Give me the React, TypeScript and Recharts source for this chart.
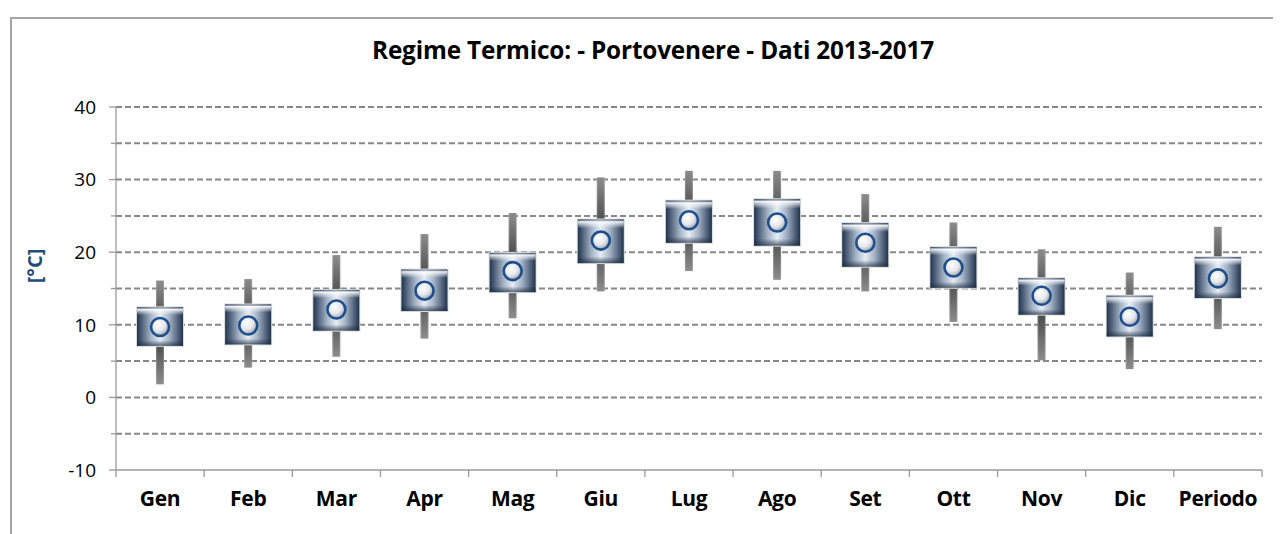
import React from 'react';
import { ComposedChart, Bar, Scatter, XAxis, YAxis, CartesianGrid } from 'recharts';

const categories = ['Gen', 'Feb', 'Mar', 'Apr', 'Mag', 'Giu', 'Lug', 'Ago', 'Set', 'Ott', 'Nov', 'Dic', 'Periodo'];
const minValues = [1.8, 4.1, 5.6, 8.1, 10.9, 14.6, 17.4, 16.2, 14.6, 10.4, 5.1, 3.9, 9.4];
const maxValues = [16.1, 16.3, 19.6, 22.5, 25.4, 30.3, 31.2, 31.2, 28.0, 24.1, 20.4, 17.2, 23.5];
const lowBoxValues = [7.1, 7.3, 9.2, 11.9, 14.5, 18.5, 21.3, 20.9, 18.0, 15.1, 11.4, 8.4, 13.7];
const highBoxValues = [12.4, 12.8, 14.8, 17.6, 19.9, 24.5, 27.1, 27.3, 24.0, 20.7, 16.4, 14.0, 19.3];
const meanValues = [9.7, 9.9, 12.1, 14.7, 17.4, 21.6, 24.4, 24.1, 21.3, 17.9, 14.0, 11.1, 16.4];
const yTicks = [-10, -5, 0, 5, 10, 15, 20, 25, 30, 35, 40];

const title = 'Regime Termico: - Portovenere - Dati 2013-2017';
const yLabel = '[°C]';

const data = categories.map((name, i) => ({
  name,
  range: [minValues[i], maxValues[i]],
  box: [lowBoxValues[i], highBoxValues[i]],
  mean: meanValues[i],
}));

const W = 1273;
const H = 526;
const MARGIN = { top: 99, right: 19, bottom: 34, left: 0 };
const Y_AXIS_W = 108;
const BAND = (W - MARGIN.left - MARGIN.right - Y_AXIS_W) / categories.length;
const FONT = '"Open Sans", "Noto Sans", sans-serif';

const WhiskerShape = (props: any) => {
  const { x, y, width, height } = props;
  if (height == null || isNaN(height)) return null;
  return (
    <g>
      <rect x={x} y={y} width={width} height={height} fill="url(#whiskerGrad)" />
      <rect x={x} y={y} width={width} height={height} fill="url(#whiskerSide)" />
    </g>
  );
};

const BoxShape = (props: any) => {
  const { x, y, width, height } = props;
  if (height == null || isNaN(height)) return null;
  return (
    <g>
      <rect x={x - 1} y={y - 1} width={width + 2} height={height + 2} fill="#d5dbe2" />
      <rect x={x} y={y} width={width} height={height} fill="url(#boxGrad)" />
      <rect x={x} y={y} width={width} height={height} fill="url(#boxVert)" />
    </g>
  );
};

const MeanShape = (props: any) => {
  const { cx, cy } = props;
  if (cx == null || cy == null) return null;
  return (
    <g>
      <circle cx={cx} cy={cy} r={9} fill="url(#meanGrad)" stroke="#1f4e8c" strokeWidth={2.6} />
    </g>
  );
};

const YTick = (props: any) => {
  const { x, y, payload } = props;
  const v = payload.value;
  const major = v % 10 === 0;
  return (
    <g>
      <line x1={x - (major ? 7 : 5)} x2={x} y1={y} y2={y} stroke="#9a9a9a" strokeWidth={1.3} />
      {major && (
        <text x={x - 20} y={y} dy="0.36em" textAnchor="end" fontFamily={FONT} fontSize={19} fill="#000">
          {v}
        </text>
      )}
    </g>
  );
};

const XTick = (props: any) => {
  const { x, y, payload, index } = props;
  const last = index === categories.length - 1;
  return (
    <g>
      <line x1={x - BAND / 2} x2={x - BAND / 2} y1={y} y2={y + 7} stroke="#9a9a9a" strokeWidth={1.3} />
      {last && <line x1={x + BAND / 2} x2={x + BAND / 2} y1={y} y2={y + 7} stroke="#9a9a9a" strokeWidth={1.3} />}
      <text x={x} y={y + 36} textAnchor="middle" fontFamily={FONT} fontWeight={700} fontSize={21} letterSpacing={-0.3} fill="#000">
        {payload.value}
      </text>
    </g>
  );
};

export default function App() {
  return (
    <div style={{ position: 'relative', width: W, height: H, overflow: 'hidden', background: '#fff' }}>
      <div
        style={{
          position: 'absolute',
          left: 2,
          top: 9,
          width: 1400,
          height: 700,
          border: '2px solid #a6a6a6',
          boxSizing: 'border-box',
        }}
      />
      <div
        style={{
          position: 'absolute',
          left: 0,
          width: 1290,
          top: 28,
          textAlign: 'center',
          fontFamily: FONT,
          fontWeight: 700,
          fontSize: 24.3,
          lineHeight: '28px',
          letterSpacing: '-0.15px',
          color: '#000',
          whiteSpace: 'nowrap',
        }}
      >
        {title}
      </div>
      <svg style={{ position: 'absolute', left: 0, top: 0 }} width={W} height={H}>
        <text
          transform="translate(27,258) rotate(-90)"
          textAnchor="middle"
          dy="0.36em"
          fontFamily={FONT}
          fontWeight={700}
          fontSize={20}
          fill="#1f4e79"
        >
          {yLabel}
        </text>
      </svg>
      <div style={{ position: 'absolute', left: 0, top: 0 }}>
        <ComposedChart width={W} height={H} data={data} margin={MARGIN}>
          <defs>
            <linearGradient id="whiskerGrad" x1="0" y1="0" x2="0" y2="1">
              <stop offset="0%" stopColor="#8c8c8c" />
              <stop offset="50%" stopColor="#3c3c3c" />
              <stop offset="100%" stopColor="#8c8c8c" />
            </linearGradient>
            <linearGradient id="whiskerSide" x1="0" y1="0" x2="1" y2="0">
              <stop offset="0%" stopColor="#ffffff" stopOpacity={0.25} />
              <stop offset="20%" stopColor="#ffffff" stopOpacity={0} />
              <stop offset="80%" stopColor="#ffffff" stopOpacity={0} />
              <stop offset="100%" stopColor="#ffffff" stopOpacity={0.25} />
            </linearGradient>
            <linearGradient id="boxGrad" x1="0" y1="0" x2="1" y2="0">
              <stop offset="0%" stopColor="#233349" />
              <stop offset="10%" stopColor="#4d5f78" />
              <stop offset="30%" stopColor="#a4b3c6" />
              <stop offset="50%" stopColor="#e6edf5" />
              <stop offset="70%" stopColor="#a4b3c6" />
              <stop offset="90%" stopColor="#4d5f78" />
              <stop offset="100%" stopColor="#233349" />
            </linearGradient>
            <linearGradient id="boxVert" x1="0" y1="0" x2="0" y2="1">
              <stop offset="0%" stopColor="#2e3e55" stopOpacity={0.6} />
              <stop offset="5%" stopColor="#ffffff" stopOpacity={0.9} />
              <stop offset="20%" stopColor="#ffffff" stopOpacity={0} />
              <stop offset="85%" stopColor="#1c2a3d" stopOpacity={0} />
              <stop offset="100%" stopColor="#1c2a3d" stopOpacity={0.7} />
            </linearGradient>
            <radialGradient id="meanGrad" cx="0.4" cy="0.35" r="0.7">
              <stop offset="0%" stopColor="#ffffff" />
              <stop offset="55%" stopColor="#e4e6ea" />
              <stop offset="100%" stopColor="#8f96a0" />
            </radialGradient>
          </defs>
          <CartesianGrid
            horizontal
            vertical={false}
            horizontalValues={yTicks.filter((v) => v > -10)}
            stroke="#888888"
            strokeWidth={2}
            strokeDasharray="6 3"
          />
          <XAxis
            xAxisId="a"
            dataKey="name"
            height={30}
            tick={<XTick />}
            tickLine={false}
            tickSize={0}
            tickMargin={0}
            axisLine={{ stroke: '#9a9a9a', strokeWidth: 1.3 }}
            interval={0}
          />
          <XAxis xAxisId="b" dataKey="name" hide />
          <YAxis
            type="number"
            domain={[-10, 40]}
            ticks={yTicks}
            width={Y_AXIS_W}
            tick={<YTick />}
            tickLine={false}
            tickSize={0}
            tickMargin={0}
            axisLine={{ stroke: '#9a9a9a', strokeWidth: 1.3 }}
            interval={0}
          />
          <Bar xAxisId="a" dataKey="range" barSize={8} shape={<WhiskerShape />} isAnimationActive={false} />
          <Bar xAxisId="b" dataKey="box" barSize={46} shape={<BoxShape />} isAnimationActive={false} />
          <Scatter xAxisId="a" dataKey="mean" shape={<MeanShape />} isAnimationActive={false} />
        </ComposedChart>
      </div>
    </div>
  );
}
